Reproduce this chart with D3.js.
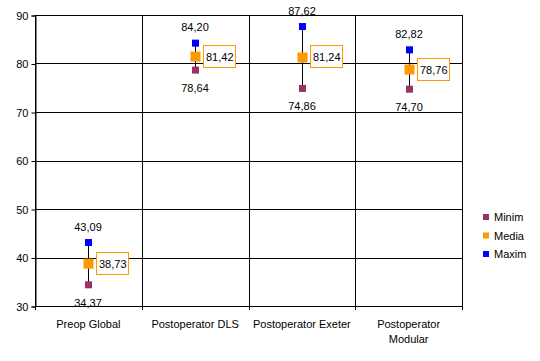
<!DOCTYPE html>
<html>
<head>
<meta charset="utf-8">
<script src="https://cdn.jsdelivr.net/npm/d3@7"></script>
<style>
  body { margin: 0; background: #fff; }
  text { font-family: "Liberation Sans", Arial, sans-serif; }
</style>
</head>
<body>
<script>
// chart data
const categories = ["Preop Global", "Postoperator DLS", "Postoperator Exeter", "Postoperator Modular"];
const minim = [34.37, 78.64, 74.86, 74.70];
const media = [38.73, 81.42, 81.24, 78.76];
const maxim = [43.09, 84.20, 87.62, 82.82];
const yTicks = [30, 40, 50, 60, 70, 80, 90];
const legendNames = ["Minim", "Media", "Maxim"];
const colors = {Minim: "#993366", Media: "#FF9900", Maxim: "#0000FF"};

const width = 540, height = 361;
const plotLeft = 35, plotRight = 462, plotTop = 15, plotBottom = 306;

const fmt = d3.formatLocale({decimal: ",", thousands: ".", grouping: [3], currency: ["", ""]}).format(".2f");

let svg = d3.select("body").append("svg")
            .attr("width", width)
            .attr("height", height);

let x = d3.scaleBand().domain(categories).range([plotLeft, plotRight]);
let y = d3.scaleLinear().domain([30, 90]).range([plotBottom, plotTop]);

// horizontal gridlines
svg.selectAll(".hgrid")
  .data(yTicks)
  .join("line")
  .attr("x1", plotLeft).attr("x2", plotRight)
  .attr("y1", d => Math.round(y(d)) + 0.5).attr("y2", d => Math.round(y(d)) + 0.5)
  .attr("stroke", "#000");

// vertical gridlines at category boundaries
let bounds = categories.map(c => x(c)).concat([plotRight]);
svg.selectAll(".vgrid")
  .data(bounds)
  .join("line")
  .attr("x1", d => Math.round(d) + 0.5).attr("x2", d => Math.round(d) + 0.5)
  .attr("y1", plotTop).attr("y2", plotBottom + 4)
  .attr("stroke", "#000");

// y axis
let yAxis = svg.append("g")
  .attr("transform", `translate(${plotLeft + 0.5},0.5)`)
  .call(d3.axisLeft(y).tickValues(yTicks).tickSize(4).tickPadding(3).tickFormat(d3.format("d")));
yAxis.select(".domain").attr("stroke", "#000");
yAxis.selectAll("text").attr("font-size", 11).attr("fill", "#000")
  .attr("font-family", "Liberation Sans, Arial, sans-serif");

// x labels
let xl = svg.selectAll(".xlab")
  .data(categories)
  .join("text")
  .attr("text-anchor", "middle")
  .attr("font-size", 11)
  .attr("fill", "#000");
xl.each(function(d) {
  let t = d3.select(this);
  let cx = x(d) + x.bandwidth() / 2;
  let lines = d === "Postoperator Modular" ? ["Postoperator", "Modular"] : [d];
  lines.forEach((s, i) => {
    t.append("tspan").attr("x", cx).attr("y", 328 + i * 15).text(s);
  });
});

let cx = i => Math.round(x(categories[i]) + x.bandwidth() / 2);

// connecting lines min-max
svg.selectAll(".hl")
  .data(categories)
  .join("line")
  .attr("x1", (d, i) => cx(i) + 0.5).attr("x2", (d, i) => cx(i) + 0.5)
  .attr("y1", (d, i) => y(maxim[i])).attr("y2", (d, i) => y(minim[i]))
  .attr("stroke", "#000");

// markers
function markers(vals, color, size) {
  svg.selectAll(null)
    .data(vals)
    .join("rect")
    .attr("x", (d, i) => cx(i) + 0.5 - size / 2)
    .attr("y", d => y(d) - size / 2)
    .attr("width", size).attr("height", size)
    .attr("fill", color);
}
markers(minim, colors.Minim, 7);
markers(maxim, colors.Maxim, 7);
markers(media, colors.Media, 10);

// max labels
svg.selectAll(".maxl")
  .data(maxim)
  .join("text")
  .attr("x", (d, i) => cx(i))
  .attr("y", d => y(d) - 12)
  .attr("text-anchor", "middle")
  .attr("font-size", 11)
  .text(d => fmt(d));

// min labels
svg.selectAll(".minl")
  .data(minim)
  .join("text")
  .attr("x", (d, i) => cx(i))
  .attr("y", d => y(d) + 22)
  .attr("text-anchor", "middle")
  .attr("font-size", 11)
  .text(d => fmt(d));

// media labels with box
svg.selectAll(".medbox")
  .data(media)
  .join("rect")
  .attr("x", (d, i) => cx(i) + 8.5)
  .attr("y", d => Math.round(y(d)) - 11.5)
  .attr("width", 32).attr("height", 22)
  .attr("fill", "#fff")
  .attr("stroke", colors.Media);
svg.selectAll(".medl")
  .data(media)
  .join("text")
  .attr("x", (d, i) => cx(i) + 11)
  .attr("y", d => Math.round(y(d)) + 4)
  .attr("font-size", 11)
  .text(d => fmt(d));

// legend
let lg = svg.selectAll(".leg")
  .data(legendNames)
  .join("g")
  .attr("transform", (d, i) => `translate(483,${217 + i * 18.5})`);
lg.append("rect").attr("x", 0).attr("y", -3).attr("width", 6).attr("height", 6)
  .attr("fill", d => colors[d]);
lg.append("text").attr("x", 11).attr("y", 4).attr("font-size", 11).text(d => d);
</script>
</body>
</html>
